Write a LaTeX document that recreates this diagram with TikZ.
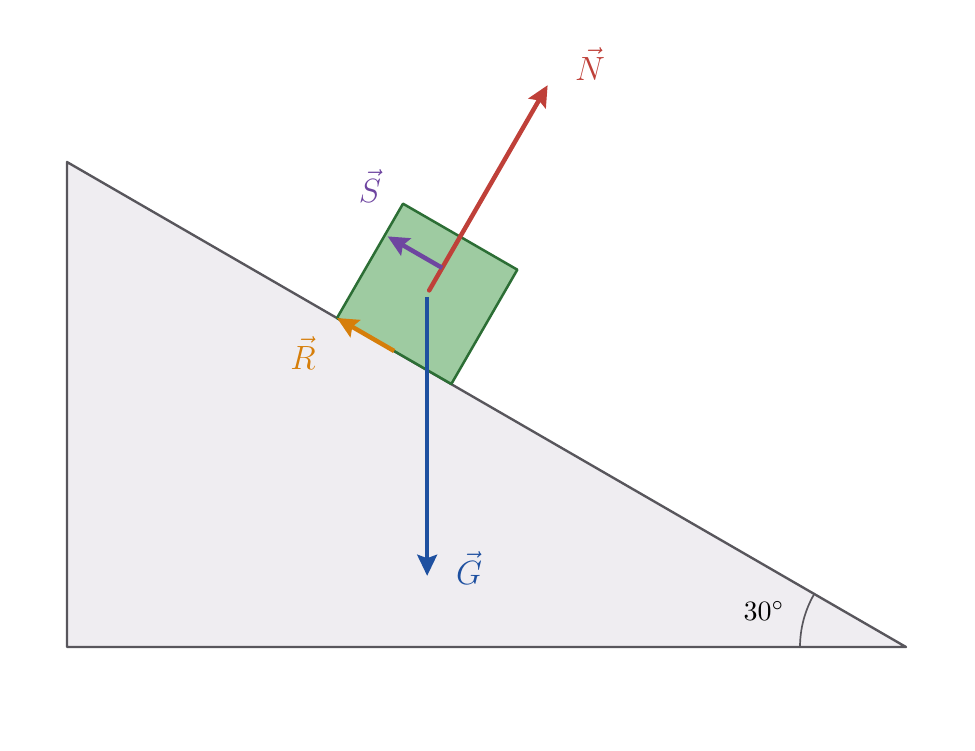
\documentclass[tikz,border=0pt]{standalone}
\usetikzlibrary{arrows.meta,calc}
\definecolor{wedgefill}{HTML}{EFEDF1}
\definecolor{wedgeline}{HTML}{58565C}
\definecolor{blockfill}{HTML}{9ECBA1}
\definecolor{blockline}{HTML}{2C6E35}
\definecolor{nred}{HTML}{BF4039}
\definecolor{spurple}{HTML}{6E45A0}
\definecolor{rorange}{HTML}{D67E0A}
\definecolor{gblue}{HTML}{1E50A0}
\tikzset{
  force/.style={line width=1.6pt,-{Stealth[length=7.5pt,width=7pt,inset=1.2pt]}},
  flabel/.style={font=\large},
}
\begin{document}
\begin{tikzpicture}[x=0.3571pt,y=-0.3571pt]
\useasboundingbox (0,0) rectangle (975,750);
% wedge
\coordinate (top) at (67,162);
\coordinate (corner) at (67,647);
\coordinate (tip) at (906,647);
\draw[wedgeline,fill=wedgefill,line width=0.85pt,line join=round] (top) -- (corner) -- (tip) -- cycle;
\draw[wedgeline,line width=0.6pt] ($(tip)+(180:106)$) arc[start angle=180,end angle=210,radius=106];
\node (ang) at (764,611) {$30^\circ$};
% block
\coordinate (A) at (337,318);
\coordinate (B) at ($(A)+(30:132)$);
\coordinate (C) at ($(B)+(-60:132)$);
\coordinate (D) at ($(A)+(-60:132)$);
\draw[blockline,fill=blockfill,line width=0.9pt,line join=round] (A) -- (B) -- (C) -- (D) -- cycle;
\coordinate (M) at ($(A)!0.5!(C)$);
% forces
\coordinate (Ns) at ($(M)+(-60:4)$);
\coordinate (Ne) at ($(M)+(-60:241)$);
\coordinate (Gs) at ($(M)+(0,3)$);
\coordinate (Ge) at ($(M)+(0,282)$);
\coordinate (Ss) at ($(M)+(-60:30)$);
\coordinate (Se) at ($(Ss)+(-150:63)$);
\coordinate (Rs) at ($(A)!0.5!(B)$);
\coordinate (Re) at (A);
\draw[force,nred,line cap=round] (Ns) -- (Ne);
\draw[force,gblue] (Gs) -- (Ge);
\draw[force,spurple] (Ss) -- (Se);
\draw[force,rorange] (Rs) -- (Re);
\node[flabel,text=nred] (Nl) at (590,64) {$\vec{N}$};
\node[flabel,text=spurple] (Sl) at (370,186) {$\vec{S}$};
\node[flabel,text=rorange] (Rl) at (303,353) {$\vec{R}$};
\node[flabel,text=gblue] (Gl) at (469,568) {$\vec{G}$};
\end{tikzpicture}
\end{document}
